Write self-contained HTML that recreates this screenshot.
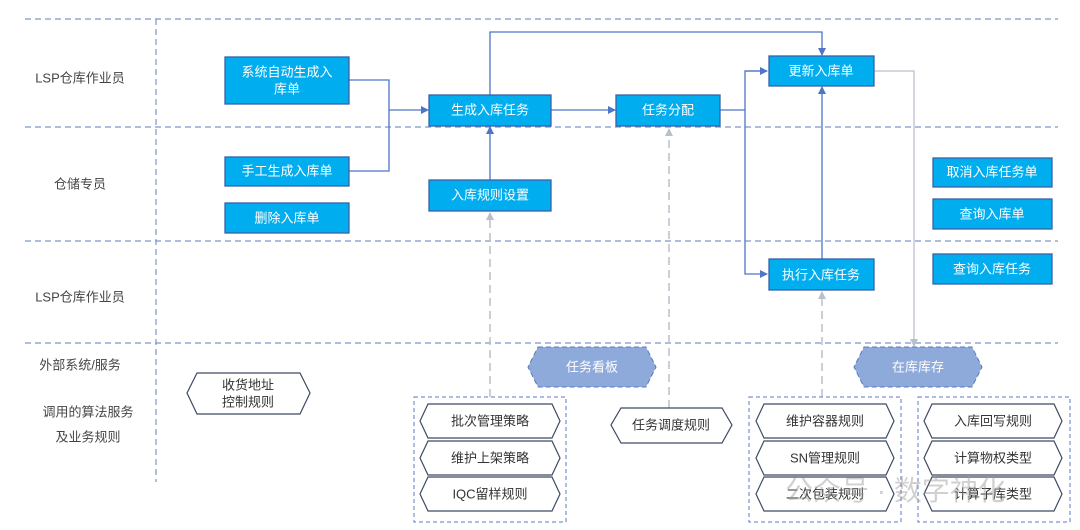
<!DOCTYPE html>
<html><head><meta charset="utf-8"><style>
html,body{margin:0;padding:0;background:#fff;}
svg{display:block;font-family:"Liberation Sans","Noto Sans CJK SC",sans-serif;}
.b{fill:#00aeef;stroke:#3a62a8;stroke-width:1.3}
.bt{fill:#fff;font-size:13px;text-anchor:middle;dominant-baseline:central}
.lt{fill:#444;font-size:13px;text-anchor:middle;dominant-baseline:central}
.h{fill:#fff;stroke:#3d4a63;stroke-width:1.2}
.ht{fill:#333;font-size:13px;text-anchor:middle;dominant-baseline:central}
.ln{stroke:#4f74c8;stroke-width:1.3;fill:none}
.gl{stroke:#b9c0cc;stroke-width:1.5;fill:none;stroke-dasharray:8 5}
.dl{stroke:#7f96c9;stroke-width:1.2;fill:none;stroke-dasharray:6 4}
</style></head><body>
<svg width="1080" height="530" viewBox="0 0 1080 530">
<defs>
<marker id="a" markerWidth="8" markerHeight="8" refX="7" refY="4" orient="auto" markerUnits="userSpaceOnUse"><path d="M0,0L8,4L0,8z" fill="#4f74c8"/></marker>
<marker id="g" markerWidth="8" markerHeight="8" refX="7" refY="4" orient="auto" markerUnits="userSpaceOnUse"><path d="M0,0L8,4L0,8z" fill="#b9c0cc"/></marker>
</defs>
<!-- lane lines -->
<line class="dl" x1="25" y1="19" x2="1058" y2="19"/>
<line class="dl" x1="25" y1="127" x2="1058" y2="127"/>
<line class="dl" x1="25" y1="241" x2="1058" y2="241"/>
<line class="dl" x1="25" y1="343" x2="1058" y2="343"/>
<line class="dl" x1="156" y1="19" x2="156" y2="482"/>
<text class="lt" x="80" y="78">LSP仓库作业员</text>
<text class="lt" x="80" y="184">仓储专员</text>
<text class="lt" x="80" y="297">LSP仓库作业员</text>
<text class="lt" x="80" y="365">外部系统/服务</text>
<text class="lt" x="88" y="412">调用的算法服务</text>
<text class="lt" x="88" y="437">及业务规则</text>
<!-- gray dashed -->
<line class="gl" x1="490" y1="397" x2="490" y2="213" marker-end="url(#g)"/>
<line class="gl" x1="669" y1="408" x2="669" y2="129" marker-end="url(#g)"/>
<line class="gl" x1="822" y1="397" x2="822" y2="292" marker-end="url(#g)"/>
<polyline points="874,71 914,71 914,346" stroke="#b9c0cc" stroke-width="1.3" fill="none" marker-end="url(#g)"/>
<!-- connectors -->
<polyline class="ln" points="349,80 389,80 389,171 349,171"/>
<line class="ln" x1="389" y1="110" x2="428" y2="110" marker-end="url(#a)"/>
<polyline class="ln" points="490,95 490,32 822,32 822,55" marker-end="url(#a)"/>
<line class="ln" x1="551" y1="110" x2="615" y2="110" marker-end="url(#a)"/>
<polyline class="ln" points="720,110 745,110"/>
<polyline class="ln" points="767,71 745,71 745,274 767,274" marker-end="url(#a)"/>
<line class="ln" x1="745" y1="71" x2="767" y2="71" marker-end="url(#a)"/>
<line class="ln" x1="822" y1="259" x2="822" y2="87" marker-end="url(#a)"/>
<line class="ln" x1="490" y1="180" x2="490" y2="127" marker-end="url(#a)"/>
<!-- blue boxes -->
<rect class="b" x="225" y="57" width="124" height="47"/><text class="bt" x="287" y="72">系统自动生成入</text><text class="bt" x="287" y="89">库单</text>
<rect class="b" x="225" y="157" width="124" height="29"/><text class="bt" x="287" y="171">手工生成入库单</text>
<rect class="b" x="225" y="203" width="124" height="30"/><text class="bt" x="287" y="218">删除入库单</text>
<rect class="b" x="429" y="95" width="122" height="31"/><text class="bt" x="490" y="110">生成入库任务</text>
<rect class="b" x="429" y="180" width="122" height="31"/><text class="bt" x="490" y="195">入库规则设置</text>
<rect class="b" x="616" y="95" width="104" height="31"/><text class="bt" x="668" y="110">任务分配</text>
<rect class="b" x="769" y="56" width="105" height="30"/><text class="bt" x="821" y="71">更新入库单</text>
<rect class="b" x="769" y="259" width="105" height="31"/><text class="bt" x="821" y="275">执行入库任务</text>
<rect class="b" x="933" y="158" width="119" height="29"/><text class="bt" x="992" y="172">取消入库任务单</text>
<rect class="b" x="933" y="199" width="119" height="30"/><text class="bt" x="992" y="214">查询入库单</text>
<rect class="b" x="933" y="254" width="119" height="30"/><text class="bt" x="992" y="269">查询入库任务</text>
<!-- hexagons -->
<polygon points="538,347 646,347 656,367 646,387 538,387 528,367" fill="#8eaadb" stroke="#5b79b8" stroke-dasharray="5 3"/>
<text class="bt" x="592" y="367">任务看板</text>
<polygon points="864,347 972,347 982,367 972,387 864,387 854,367" fill="#8eaadb" stroke="#5b79b8" stroke-dasharray="5 3"/>
<text class="bt" x="918" y="367">在库库存</text>
<polygon class="h" points="197,373 300,373 310,393 300,414 197,414 187,393"/>
<text class="ht" x="248" y="385">收货地址</text><text class="ht" x="248" y="402">控制规则</text>
<polygon class="h" points="621,408 722,408 732,425 722,443 621,443 611,425"/>
<text class="ht" x="671" y="425">任务调度规则</text>
<!-- containers -->
<rect x="414" y="397" width="152" height="125" fill="none" stroke="#5b79c8" stroke-dasharray="4 3"/>
<rect x="749" y="397" width="152" height="125" fill="none" stroke="#5b79c8" stroke-dasharray="4 3"/>
<rect x="918" y="397" width="152" height="125" fill="none" stroke="#5b79c8" stroke-dasharray="4 3"/>
<g>
<polygon class="h" points="428,404 552,404 560,421 552,438 428,438 420,421"/><text class="ht" x="490" y="421">批次管理策略</text>
<polygon class="h" points="428,441 552,441 560,458 552,475 428,475 420,458"/><text class="ht" x="490" y="458">维护上架策略</text>
<polygon class="h" points="428,477 552,477 560,494 552,511 428,511 420,494"/><text class="ht" x="490" y="494">IQC留样规则</text>
<polygon class="h" points="764,404 886,404 894,421 886,438 764,438 756,421"/><text class="ht" x="825" y="421">维护容器规则</text>
<polygon class="h" points="764,441 886,441 894,458 886,475 764,475 756,458"/><text class="ht" x="825" y="458">SN管理规则</text>
<polygon class="h" points="764,477 886,477 894,494 886,511 764,511 756,494"/><text class="ht" x="825" y="494">二次包装规则</text>
<polygon class="h" points="932,404 1054,404 1062,421 1054,438 932,438 924,421"/><text class="ht" x="993" y="421">入库回写规则</text>
<polygon class="h" points="932,441 1054,441 1062,458 1054,475 932,475 924,458"/><text class="ht" x="993" y="458">计算物权类型</text>
<polygon class="h" points="932,477 1054,477 1062,494 1054,511 932,511 924,494"/><text class="ht" x="993" y="494">计算子库类型</text>
</g>
<text x="785" y="500" fill="#999" opacity="0.45" font-size="28">公众号 · 数字神化</text>
</svg>
</body></html>
